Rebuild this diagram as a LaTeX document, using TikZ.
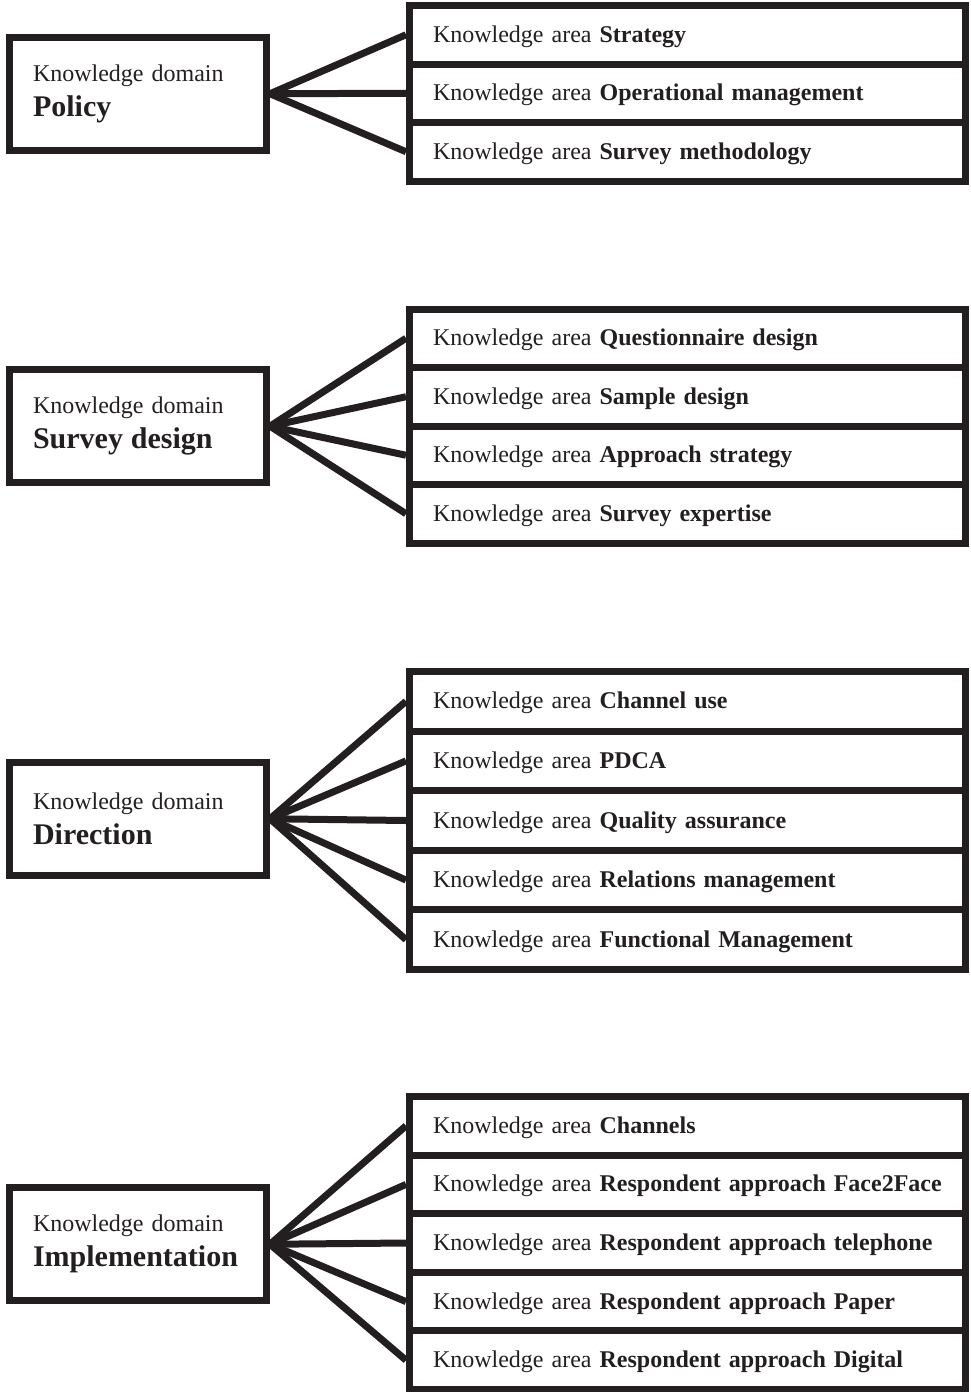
\documentclass[tikz,border=0pt]{standalone}
\usepackage{fontspec}
\setmainfont[WordSpace=0.8]{Liberation Serif}
\definecolor{ink}{HTML}{231F20}
\begin{document}
\begin{tikzpicture}[x=1pt,y=-1pt,
  domainbox/.style={draw=ink, line width=7pt, minimum width=257pt, minimum height=113pt,
    text width=210pt, inner xsep=23.5pt, inner ysep=0pt, align=left, text=ink,
    font=\fontsize{24}{35}\selectfont},
  areabox/.style={draw=ink, line width=7pt, minimum width=556pt,
    text width=509pt, inner xsep=23.5pt, inner ysep=0pt, align=left, text=ink,
    text height=20pt, text depth=5pt,
    font=\fontsize{24}{28}\selectfont},
  link/.style={draw=ink, line width=7pt}]
\useasboundingbox (0,0) rectangle (970,1392);
\newcommand{\dtitle}[1]{{\fontsize{30}{35}\selectfont\bfseries #1}}

% --- Policy ---
\node[domainbox] (d1) at (138,93.75) {Knowledge domain\\\dtitle{Policy}};
\begin{scope}[every node/.append style={areabox, minimum height=58.5pt}]
  \node (a11) at (687.5,34.75)  {Knowledge area \textbf{Strategy}};
  \node (a12) at (687.5,93.25)  {Knowledge area \textbf{Operational management}};
  \node (a13) at (687.5,151.75) {Knowledge area \textbf{Survey methodology}};
\end{scope}
\foreach \n in {a11,a12,a13} \draw[link] (d1.east) -- (\n.west);

% --- Survey design ---
\node[domainbox] (d2) at (138,426.2) {Knowledge domain\\\dtitle{Survey design}};
\begin{scope}[every node/.append style={areabox, minimum height=58.5pt}]
  \node (a21) at (687.5,338.25) {Knowledge area \textbf{Questionnaire design}};
  \node (a22) at (687.5,396.75) {Knowledge area \textbf{Sample design}};
  \node (a23) at (687.5,455.25) {Knowledge area \textbf{Approach strategy}};
  \node (a24) at (687.5,513.75) {Knowledge area \textbf{Survey expertise}};
\end{scope}
\foreach \n in {a21,a22,a23,a24} \draw[link] (d2.east) -- (\n.west);

% --- Direction ---
\node[domainbox] (d3) at (138,818.75) {Knowledge domain\\\dtitle{Direction}};
\begin{scope}[every node/.append style={areabox, minimum height=59.6pt}]
  \node (a31) at (687.5,701.3) {Knowledge area \textbf{Channel use}};
  \node (a32) at (687.5,760.9) {Knowledge area \textbf{PDCA}};
  \node (a33) at (687.5,820.5) {Knowledge area \textbf{Quality assurance}};
  \node (a34) at (687.5,880.1) {Knowledge area \textbf{Relations management}};
  \node (a35) at (687.5,939.7) {Knowledge area \textbf{Functional Management}};
\end{scope}
\foreach \n in {a31,a32,a33,a34,a35} \draw[link] (d3.east) -- (\n.west);

% --- Implementation ---
\node[domainbox] (d4) at (138,1244.25) {Knowledge domain\\\dtitle{Implementation}};
\begin{scope}[every node/.append style={areabox, minimum height=58.6pt}]
  \node (a41) at (687.5,1125.8) {Knowledge area \textbf{Channels}};
  \node (a42) at (687.5,1184.4) {Knowledge area \textbf{Respondent approach Face2Face}};
  \node (a43) at (687.5,1243.0) {Knowledge area \textbf{Respondent approach telephone}};
  \node (a44) at (687.5,1301.6) {Knowledge area \textbf{Respondent approach Paper}};
  \node (a45) at (687.5,1360.2) {Knowledge area \textbf{Respondent approach Digital}};
\end{scope}
\foreach \n in {a41,a42,a43,a44,a45} \draw[link] (d4.east) -- (\n.west);
\end{tikzpicture}
\end{document}
